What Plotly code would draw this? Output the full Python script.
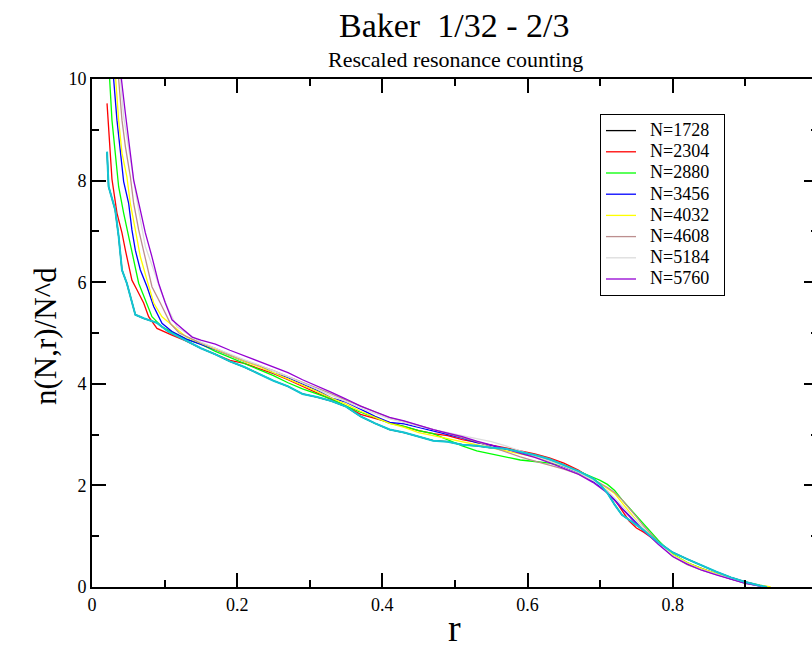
import plotly.graph_objects as go

# shared r grid for the tail part of every curve
r_grid = [0.15, 0.17, 0.19, 0.21, 0.23, 0.25, 0.27, 0.29, 0.31, 0.33, 0.35, 0.37, 0.39, 0.41, 0.43,
          0.45, 0.47, 0.49, 0.51, 0.53, 0.55, 0.57, 0.59, 0.61, 0.63, 0.65, 0.67, 0.69, 0.70, 0.71,
          0.72, 0.73, 0.74, 0.75, 0.76, 0.77, 0.78, 0.79, 0.80, 0.82, 0.84, 0.86, 0.88, 0.90, 0.92]

labels = ["N=1728", "N=2304", "N=2880", "N=3456", "N=4032", "N=4608", "N=5184", "N=5760", ""]
colors = ["#000000", "#ff0000", "#00ff00", "#0000ff", "#ffff00", "#bc8f8f", "#dcdcdc", "#9400d3", "#12c6d4"]

# N=1728 (black, lies under the cyan curve)
r_head_1728 = [0.0207, 0.0229, 0.0275, 0.032, 0.0367, 0.0413, 0.048, 0.0528, 0.0597, 0.0712, 0.0895, 0.105, 0.12, 0.135]
n_head_1728 = [8.56, 7.88, 7.65, 7.42, 6.90, 6.24, 5.98, 5.72, 5.36, 5.29, 5.20, 5.03, 4.92, 4.82]
n_tail_1728 = [4.70, 4.58, 4.44, 4.33, 4.20, 4.06, 3.95, 3.80, 3.74, 3.66, 3.55, 3.36, 3.22, 3.10, 3.04,
               2.96, 2.88, 2.86, 2.80, 2.78, 2.74, 2.72, 2.66, 2.60, 2.52, 2.40, 2.28, 2.14, 2.02, 1.85,
               1.62, 1.42, 1.32, 1.22, 1.12, 1.00, 0.88, 0.78, 0.68, 0.55, 0.42, 0.30, 0.19, 0.10, 0.03]
r_end_1728 = 0.93

# N=2304 (red)
r_head_2304 = [0.0207, 0.024, 0.0275, 0.0344, 0.0413, 0.046, 0.0505, 0.055, 0.0619, 0.0712, 0.078, 0.0895, 0.1102, 0.1286]
n_head_2304 = [9.52, 8.67, 8.03, 7.36, 6.97, 6.63, 6.31, 6.04, 5.85, 5.59, 5.32, 5.09, 4.96, 4.85]
n_tail_2304 = [4.70, 4.58, 4.46, 4.40, 4.30, 4.20, 4.08, 3.95, 3.82, 3.68, 3.56, 3.40, 3.32, 3.24, 3.16,
               3.08, 3.02, 2.98, 2.90, 2.85, 2.80, 2.74, 2.68, 2.62, 2.54, 2.44, 2.30, 2.12, 2.00, 1.88,
               1.72, 1.50, 1.30, 1.16, 1.08, 0.98, 0.86, 0.74, 0.62, 0.47, 0.36, 0.26, 0.17, 0.08, 0.03]
r_end_2304 = 0.93

# N=2880 (green)
r_head_2880 = [0.0232, 0.0243, 0.0275, 0.032, 0.0367, 0.0436, 0.0505, 0.0574, 0.0643, 0.0735, 0.0826, 0.0964, 0.115, 0.13]
n_head_2880 = [10.6, 10.0, 9.19, 8.54, 7.88, 7.36, 6.90, 6.50, 5.98, 5.65, 5.32, 5.12, 4.99, 4.88]
n_tail_2880 = [4.78, 4.64, 4.52, 4.40, 4.28, 4.16, 4.02, 3.90, 3.80, 3.70, 3.56, 3.44, 3.34, 3.22, 3.16,
               3.08, 3.02, 2.90, 2.78, 2.68, 2.62, 2.56, 2.50, 2.47, 2.44, 2.38, 2.28, 2.16, 2.10, 2.02,
               1.90, 1.72, 1.56, 1.40, 1.22, 1.08, 0.92, 0.78, 0.65, 0.48, 0.36, 0.26, 0.16, 0.08, 0.02]
r_end_2880 = 0.93

# N=3456 (blue)
r_head_3456 = [0.0285, 0.0298, 0.0344, 0.039, 0.0436, 0.0505, 0.055, 0.0597, 0.0666, 0.0758, 0.085, 0.0964, 0.1102, 0.13]
n_head_3456 = [10.6, 10.0, 9.19, 8.54, 7.98, 7.55, 7.03, 6.63, 6.24, 5.91, 5.52, 5.19, 5.03, 4.88]
n_tail_3456 = [4.78, 4.67, 4.56, 4.44, 4.36, 4.21, 4.12, 3.99, 3.87, 3.72, 3.64, 3.50, 3.36, 3.24, 3.21,
               3.14, 3.07, 3.00, 2.93, 2.84, 2.79, 2.72, 2.64, 2.56, 2.49, 2.37, 2.25, 2.08, 1.98, 1.86,
               1.72, 1.55, 1.40, 1.25, 1.12, 1.00, 0.86, 0.74, 0.62, 0.47, 0.35, 0.25, 0.16, 0.08, 0.02]
r_end_3456 = 0.925

# N=4032 (yellow)
r_head_4032 = [0.0305, 0.0326, 0.0367, 0.0413, 0.048, 0.0528, 0.0597, 0.0666, 0.0758, 0.085, 0.0964, 0.115, 0.13]
n_head_4032 = [10.6, 10.0, 9.19, 8.54, 8.08, 7.55, 7.03, 6.50, 6.04, 5.59, 5.32, 5.09, 4.92]
n_tail_4032 = [4.80, 4.68, 4.56, 4.44, 4.34, 4.22, 4.10, 3.97, 3.85, 3.72, 3.60, 3.46, 3.34, 3.22, 3.14,
               3.04, 2.98, 2.92, 2.86, 2.80, 2.74, 2.68, 2.62, 2.56, 2.48, 2.38, 2.26, 2.12, 2.04, 1.94,
               1.84, 1.66, 1.48, 1.30, 1.14, 1.02, 0.88, 0.76, 0.64, 0.48, 0.36, 0.26, 0.17, 0.09, 0.04]
r_end_4032 = 0.935

# N=4608 (brown)
r_head_4608 = [0.0345, 0.0367, 0.0413, 0.046, 0.0528, 0.0574, 0.0643, 0.0735, 0.0826, 0.0941, 0.1079, 0.12, 0.135]
n_head_4608 = [10.6, 10.0, 9.19, 8.67, 8.08, 7.55, 7.03, 6.44, 5.91, 5.59, 5.19, 5.00, 4.90]
n_tail_4608 = [4.80, 4.70, 4.57, 4.46, 4.36, 4.26, 4.14, 4.03, 3.92, 3.80, 3.68, 3.56, 3.44, 3.33, 3.26,
               3.18, 3.10, 3.02, 2.94, 2.86, 2.76, 2.66, 2.56, 2.48, 2.40, 2.32, 2.22, 2.10, 2.04, 1.96,
               1.86, 1.72, 1.56, 1.38, 1.20, 1.04, 0.88, 0.74, 0.60, 0.44, 0.33, 0.24, 0.15, 0.07, 0.02]
r_end_4608 = 0.925

# N=5184 (grey)
r_head_5184 = [0.037, 0.039, 0.0436, 0.0505, 0.0574, 0.0643, 0.0735, 0.085, 0.0941, 0.1056, 0.117, 0.13]
n_head_5184 = [10.6, 10.0, 9.26, 8.60, 8.01, 7.42, 6.70, 6.24, 5.85, 5.45, 5.12, 5.00]
n_tail_5184 = [4.82, 4.70, 4.58, 4.47, 4.37, 4.26, 4.14, 4.02, 3.90, 3.77, 3.65, 3.52, 3.41, 3.31, 3.24,
               3.16, 3.10, 3.04, 2.99, 2.93, 2.86, 2.78, 2.68, 2.58, 2.49, 2.38, 2.26, 2.10, 2.00, 1.89,
               1.75, 1.60, 1.44, 1.28, 1.13, 1.00, 0.86, 0.74, 0.62, 0.46, 0.34, 0.25, 0.16, 0.08, 0.02]
r_end_5184 = 0.925

# N=5760 (violet)
r_head_5760 = [0.0392, 0.0405, 0.046, 0.0528, 0.0574, 0.0666, 0.0735, 0.0826, 0.0918, 0.101, 0.1102, 0.124, 0.138]
n_head_5760 = [10.6, 10.0, 9.32, 8.54, 8.01, 7.42, 6.97, 6.50, 5.98, 5.59, 5.26, 5.09, 4.92]
n_tail_5760 = [4.86, 4.78, 4.66, 4.55, 4.45, 4.33, 4.22, 4.08, 3.96, 3.83, 3.70, 3.56, 3.45, 3.34, 3.27,
               3.18, 3.10, 3.03, 2.96, 2.87, 2.80, 2.72, 2.63, 2.55, 2.45, 2.33, 2.22, 2.06, 1.96, 1.85,
               1.70, 1.54, 1.40, 1.24, 1.10, 0.98, 0.84, 0.72, 0.60, 0.45, 0.33, 0.24, 0.15, 0.07, 0.02]
r_end_5760 = 0.922

# unlabelled cyan curve
r_head_cyan = [0.0207, 0.0229, 0.0275, 0.032, 0.0367, 0.0413, 0.048, 0.0528, 0.0597, 0.0712, 0.0895, 0.105, 0.12, 0.135]
n_head_cyan = [8.57, 7.88, 7.65, 7.42, 6.90, 6.24, 5.98, 5.72, 5.36, 5.29, 5.20, 5.03, 4.92, 4.82]
n_tail_cyan = [4.70, 4.58, 4.44, 4.33, 4.20, 4.06, 3.95, 3.80, 3.74, 3.66, 3.55, 3.36, 3.22, 3.10, 3.04,
               2.96, 2.88, 2.86, 2.80, 2.78, 2.74, 2.72, 2.66, 2.60, 2.52, 2.40, 2.28, 2.14, 2.02, 1.85,
               1.62, 1.42, 1.32, 1.22, 1.12, 1.00, 0.88, 0.78, 0.68, 0.55, 0.42, 0.30, 0.19, 0.10, 0.03]
r_end_cyan = 0.93

series = [
    (r_head_1728, n_head_1728, n_tail_1728, r_end_1728),
    (r_head_2304, n_head_2304, n_tail_2304, r_end_2304),
    (r_head_2880, n_head_2880, n_tail_2880, r_end_2880),
    (r_head_3456, n_head_3456, n_tail_3456, r_end_3456),
    (r_head_4032, n_head_4032, n_tail_4032, r_end_4032),
    (r_head_4608, n_head_4608, n_tail_4608, r_end_4608),
    (r_head_5184, n_head_5184, n_tail_5184, r_end_5184),
    (r_head_5760, n_head_5760, n_tail_5760, r_end_5760),
    (r_head_cyan, n_head_cyan, n_tail_cyan, r_end_cyan),
]

FONT = "Liberation Serif"
fig = go.Figure()
for i, (rh, nh, nt, re_) in enumerate(series):
    xs = rh + r_grid + [re_]
    ys = nh + nt + [0.0]
    is_cyan = (i == len(series) - 1)
    name = ('<span style="font-size:18px">\u00a0\u00a0' + labels[i] + '\u00a0\u00a0</span>') if labels[i] else ""
    fig.add_trace(go.Scatter(
        x=xs, y=ys, mode="lines", name=name,
        showlegend=bool(labels[i]),
        yaxis="y2" if is_cyan else "y",
        line=dict(color=colors[i], width=2.0 if is_cyan else 1.3),
    ))

W, H = 812, 656
L, R, T, B = 92, 0, 79, 69
px_per_unit = 725.9
xmax = (W - L - R) / px_per_unit
PW, PH = W - L - R, H - T - B

axis_common = dict(
    showgrid=False, zeroline=False, showline=True, linecolor="black", linewidth=2,
    ticks="inside", tickcolor="black", tickwidth=1.5, ticklen=14,
    tickfont=dict(family=FONT, size=18, color="black"),
)

fig.update_layout(
    width=W, height=H,
    margin=dict(l=L, r=R, t=T, b=B, pad=0),
    paper_bgcolor="white", plot_bgcolor="white",
    font=dict(family=FONT, color="black"),
    xaxis=dict(range=[0, xmax], tick0=0, dtick=0.2, mirror="ticks",
               minor=dict(dtick=0.1, ticklen=7, ticks="inside", tickcolor="black", tickwidth=1.5),
               **axis_common),
    yaxis=dict(range=[0, 10], tick0=0, dtick=2, mirror=False,
               minor=dict(dtick=1, ticklen=7, ticks="inside", tickcolor="black", tickwidth=1.5),
               **axis_common),
    yaxis2=dict(range=[0, 10], tick0=0, dtick=2, overlaying="y", side="right",
                showgrid=False, zeroline=False, showline=False, showticklabels=False,
                ticks="inside", tickcolor="black", tickwidth=1.5, ticklen=8,
                minor=dict(dtick=1, ticklen=1, ticks="inside", tickcolor="black", tickwidth=1.5)),
    legend=dict(x=(600 - L) / PW, y=(587 - 114) / PH,
                xanchor="left", yanchor="top",
                bgcolor="white", bordercolor="black", borderwidth=1,
                font=dict(family=FONT, size=14, color="black"),
                itemwidth=30, tracegroupgap=0),
    showlegend=True,
    annotations=[
        dict(text="Baker\u00a0 1/32 - 2/3", xref="paper", yref="paper",
             x=(454 - L) / PW, y=(587 - 26) / PH,
             xanchor="center", yanchor="middle", showarrow=False,
             font=dict(family=FONT, size=34, color="black")),
        dict(text="Rescaled resonance counting", xref="paper", yref="paper",
             x=(455 - L) / PW, y=(587 - 59) / PH,
             xanchor="center", yanchor="middle", showarrow=False,
             font=dict(family=FONT, size=22, color="black")),
        dict(text="n(N,r)/N^d", xref="paper", yref="paper",
             x=(45 - L) / PW, y=(587 - 336) / PH,
             xanchor="center", yanchor="middle", showarrow=False, textangle=-90,
             font=dict(family=FONT, size=31, color="black")),
        dict(text="r", xref="paper", yref="paper",
             x=(454 - L) / PW, y=(587 - 628) / PH,
             xanchor="center", yanchor="middle", showarrow=False,
             font=dict(family=FONT, size=38, color="black")),
    ],
)

fig.write_html("out.html")
